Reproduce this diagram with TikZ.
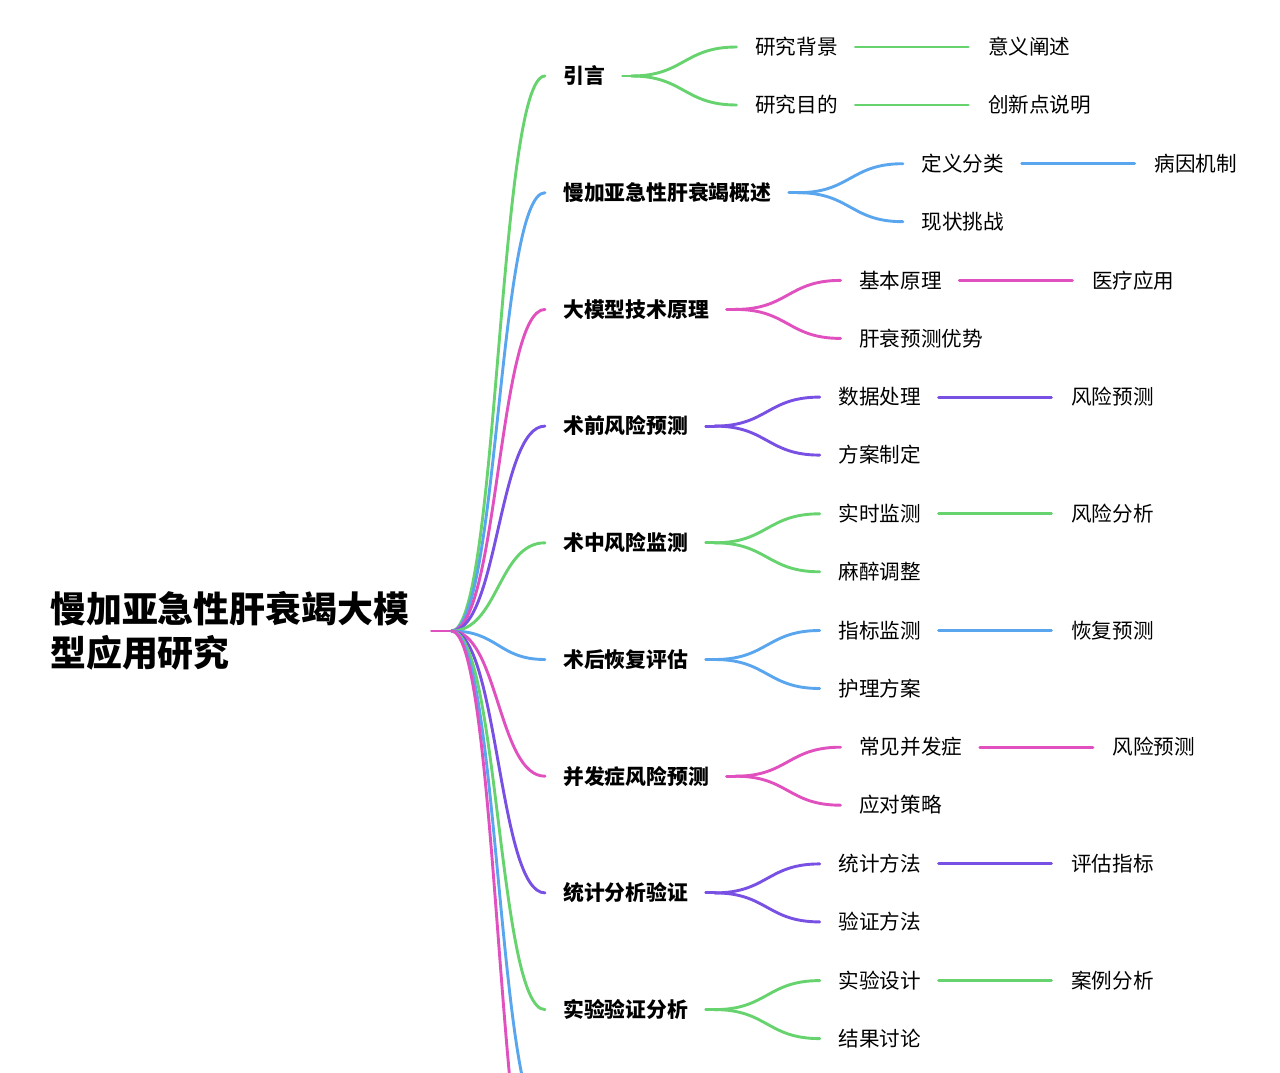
\documentclass[tikz,border=0pt]{standalone}
\usepackage{fontspec}
\setmainfont{Noto Sans CJK SC}
\usetikzlibrary{calc}
\definecolor{mgreen}{HTML}{67D36E}
\definecolor{mblue}{HTML}{5AA6EE}
\definecolor{mpink}{HTML}{E050BE}
\definecolor{mpurple}{HTML}{7850E4}
\tikzset{
  mm/.style={line width=2.9pt, line cap=round},
  rootnode/.style={font=\fontsize{35.9}{44}\selectfont\bfseries, inner sep=0pt, align=left, anchor=west},
  lone/.style={font=\fontsize{20.8}{25}\selectfont\bfseries, inner sep=0pt, text height=16.6pt, text depth=1pt, anchor=west},
  ltwo/.style={font=\fontsize{20.6}{25}\selectfont, inner sep=0pt, text height=16.5pt, text depth=1pt, anchor=west},
}
\newcommand\mmcurve[3]{\draw[mm,#1] let \p1=(#2), \p2=(#3) in (\p1) .. controls ({(\x1+\x2)/2},\y1) and ({(\x1+\x2)/2},\y2) .. (\p2);}
\newcommand\mmbranch[7]{%
  \node[lone] (#2) at (563,#3) {#4};
  \mmcurve{#1}{rj}{[xshift=-18pt]#2.west}
  \path (#2.east) ++(150,-29) node[ltwo] (#2a) {#5};
  \path (#2.east) ++(150,29) node[ltwo] (#2b) {#7};
  \draw[mm,#1] ([xshift=17.5pt]#2.east) -- ++(9,0) coordinate (#2j);
  \mmcurve{#1}{#2j}{[xshift=-18.5pt]#2a.west}
  \mmcurve{#1}{#2j}{[xshift=-18.5pt]#2b.west}
  \path (#2a.east) ++(150,0) node[ltwo] (#2c) {#6};
  \draw[mm,#1] ([xshift=17.5pt]#2a.east) -- ([xshift=-19.5pt]#2c.west);
}
\begin{document}
\begin{tikzpicture}[x=1pt,y=-1pt]
\useasboundingbox (0,0) rectangle (1280,1073);
\clip (0,0) rectangle (1280,1073);
\node[rootnode] (r) at (50,631) {慢加亚急性肝衰竭大模\\型应用研究};
\draw[mm,mpink] ([xshift=22pt]r.east) -- ++(20,0) coordinate (rj);
\mmbranch{mgreen}{n1}{76}{引言}{研究背景}{意义阐述}{研究目的}
\path (n1b.east) ++(150,0) node[ltwo] (n1d) {创新点说明};
\draw[mm,mgreen] ([xshift=17.5pt]n1b.east) -- ([xshift=-19.5pt]n1d.west);
\mmbranch{mblue}{n2}{192.7}{慢加亚急性肝衰竭概述}{定义分类}{病因机制}{现状挑战}
\mmbranch{mpink}{n3}{309.4}{大模型技术原理}{基本原理}{医疗应用}{肝衰预测优势}
\mmbranch{mpurple}{n4}{426.1}{术前风险预测}{数据处理}{风险预测}{方案制定}
\mmbranch{mgreen}{n5}{542.8}{术中风险监测}{实时监测}{风险分析}{麻醉调整}
\mmbranch{mblue}{n6}{659.5}{术后恢复评估}{指标监测}{恢复预测}{护理方案}
\mmbranch{mpink}{n7}{776.2}{并发症风险预测}{常见并发症}{风险预测}{应对策略}
\mmbranch{mpurple}{n8}{892.9}{统计分析验证}{统计方法}{评估指标}{验证方法}
\mmbranch{mgreen}{n9}{1009.6}{实验验证分析}{实验设计}{案例分析}{结果讨论}
\coordinate (n10) at (545,1126.3);
\coordinate (n11) at (545,1243);
\mmcurve{mblue}{rj}{n10}
\mmcurve{mpink}{rj}{n11}
\end{tikzpicture}
\end{document}
